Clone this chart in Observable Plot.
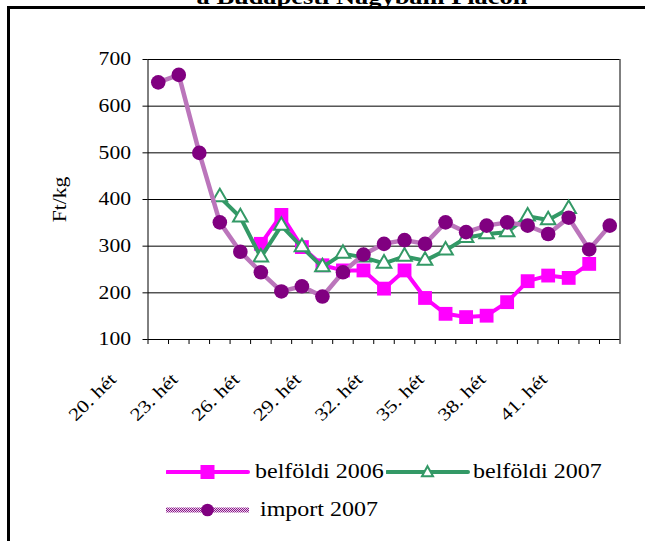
<!DOCTYPE html>
<html><head><meta charset="utf-8">
<script src="https://cdn.jsdelivr.net/npm/d3@7"></script>
<script src="https://cdn.jsdelivr.net/npm/@observablehq/plot@0.6"></script>
<style>
body{margin:0;background:#fff;font-family:"Liberation Serif","Times New Roman",serif;color:#000;}
#wrap{position:relative;width:645px;height:541px;overflow:hidden;background:#fff;}
#chart{position:absolute;left:0;top:0;}
#frame{position:absolute;left:7px;top:6px;width:700px;height:600px;border-left:3px solid #000;border-top:3px solid #000;z-index:5;pointer-events:none;}
#title{position:absolute;left:362px;top:-14.4px;font-size:22px;line-height:22px;font-weight:bold;white-space:nowrap;transform:translateX(-50%) scaleX(1.2);}
.sw{position:absolute;}
.lt{position:absolute;font-size:20px;line-height:20px;white-space:nowrap;transform:scaleX(1.2);transform-origin:0 0;}
</style>
</head><body>
<div id="wrap">
  <div id="title">a Budapesti Nagybani Piacon</div>
  <div id="chart"></div>
  <div id="legend"></div>
  <div id="frame"></div>
</div>
<script>
const weeks = [20,21,22,23,24,25,26,27,28,29,30,31,32,33,34,35,36,37,38,39,40,41,42];
const labelWeeks = [20,23,26,29,32,35,38,41];
const weekLabels = ["20. hét","23. hét","26. hét","29. hét","32. hét","35. hét","38. hét","41. hét"];
const yTicks = [100,200,300,400,500,600,700];
const seriesNames = ["belföldi 2006","belföldi 2007","import 2007"];
const belfoldi2006 = [null,null,null,null,null,305,367,298,259,248,248,209,248,189,155,148,151,180,225,237,232,262,null];
const belfoldi2007 = [null,null,null,405,362,276,344,298,255,284,276,263,278,269,291,318,326,330,364,356,380,null,null];
const import2007   = [651,667,500,351,288,244,203,214,192,244,282,305,313,305,351,330,344,351,344,326,361,293,344];

const toRows = arr => weeks.map((w,i)=>({w, v: arr[i]}));
const r06 = toRows(belfoldi2006), r07 = toRows(belfoldi2007), rim = toRows(import2007);
const bounds = weeks.map(w=>w-0.5).concat([weeks[weeks.length-1]+0.5]);
const xDom = [bounds[0], bounds[bounds.length-1]];

const C06 = "#ff00ff", C07 = "#339966", CIM = "#800080";

const plot = Plot.plot({
  width: 645, height: 435,
  marginLeft: 147.5, marginRight: 25.5, marginTop: 59, marginBottom: 96,
  style: {fontFamily: "Liberation Serif, Times New Roman, serif", fontSize: "20px", color: "#000", background: "transparent", overflow: "visible"},
  x: {type: "linear", domain: xDom},
  y: {domain: [100, 700]},
  marks: [
    Plot.gridY(yTicks.slice(1), {stroke: "#000", strokeOpacity: 1, strokeWidth: 1}),
    Plot.ruleX([xDom[0]], {stroke: "#000", strokeWidth: 1}),
    Plot.ruleX([xDom[1]], {stroke: "#000", strokeWidth: 1}),
    Plot.ruleY([100], {stroke: "#000", strokeWidth: 1}),
    Plot.axisY({ticks: yTicks, tickSize: 5, tickPadding: 12, tickFormat: d => String(d), label: null, fontSize: 18}),
    Plot.axisX({ticks: bounds, tickSize: 5, tickFormat: () => "", label: null}),
    Plot.text(labelWeeks, {x: d => d, text: (d,i) => weekLabels[i], frameAnchor: "bottom", rotate: -45, textAnchor: "end", dx: -41, dy: 41, fontSize: 18}),
    Plot.text(["Ft/kg"], {frameAnchor: "left", textAnchor: "middle", rotate: -90, dx: -88, fontSize: 18}),
    Plot.line(r06, {x: "w", y: "v", stroke: C06, strokeWidth: 4}),
    Plot.dot(r06, {x: "w", y: "v", symbol: "square", r: 7.8, fill: C06, stroke: "none"}),
    Plot.line(r07, {x: "w", y: "v", stroke: C07, strokeWidth: 4}),
    Plot.dot(r07, {x: "w", y: "v", symbol: "triangle", r: 5.4, fill: "#fff", stroke: C07, strokeWidth: 2}),
    Plot.line(rim, {x: "w", y: "v", stroke: "url(#pchk)", strokeWidth: 4.5}),
    Plot.dot(rim, {x: "w", y: "v", symbol: "circle", r: 7.3, fill: CIM, stroke: "none"})
  ]
});

// checker pattern for the import line
const ns = "http://www.w3.org/2000/svg";
const defs = document.createElementNS(ns, "defs");
defs.innerHTML = '<pattern id="pchk" patternUnits="userSpaceOnUse" width="2" height="2">' +
  '<rect width="2" height="2" fill="#ecd0ec"/><rect width="1" height="1" fill="#8a1a8a"/>' +
  '<rect x="1" y="1" width="1" height="1" fill="#8a1a8a"/></pattern>';
plot.insertBefore(defs, plot.firstChild);

document.getElementById("chart").appendChild(plot);

// widen serif texts to match the stretched original
plot.querySelectorAll("text").forEach(t => {
  const len = t.getComputedTextLength();
  if (len > 0) { t.setAttribute("textLength", (len*1.2).toFixed(1)); t.setAttribute("lengthAdjust", "spacingAndGlyphs"); }
});

// legend
const legend = document.getElementById("legend");
function swatch(left, cy, color, sym, isPattern) {
  const s = document.createElementNS(ns, "svg");
  s.setAttribute("class", "sw");
  s.setAttribute("width", 84); s.setAttribute("height", 20);
  s.style.left = left + "px"; s.style.top = (cy - 10) + "px";
  let inner = "";
  if (isPattern) {
    inner += '<defs><pattern id="pchk2" patternUnits="userSpaceOnUse" width="2" height="2"><rect width="2" height="2" fill="#ecd0ec"/><rect width="1" height="1" fill="#8a1a8a"/><rect x="1" y="1" width="1" height="1" fill="#8a1a8a"/></pattern></defs>';
    inner += '<rect x="0" y="7.5" width="83" height="5" fill="url(#pchk2)"/>';
  } else {
    inner += `<line x1="1" x2="82" y1="10" y2="10" stroke="${color}" stroke-width="4" stroke-linecap="round"/>`;
  }
  if (sym === "square") inner += `<rect x="34.5" y="3" width="14" height="14" fill="${color}"/>`;
  if (sym === "triangle") inner += `<path d="M41.5,4.2L47,14.2L36,14.2Z" fill="#fff" stroke="${color}" stroke-width="2"/>`;
  if (sym === "circle") inner += `<circle cx="41.5" cy="10" r="6.3" fill="${color}"/>`;
  s.innerHTML = inner;
  legend.appendChild(s);
}
function label(left, baseline, txt) {
  const d = document.createElement("div");
  d.className = "lt"; d.textContent = txt;
  d.style.left = left + "px"; d.style.top = (baseline - 16.75) + "px";
  legend.appendChild(d);
}
swatch(166, 472, C06, "square");
label(255, 478, seriesNames[0]);
swatch(386, 472, C07, "triangle");
label(473, 478, seriesNames[1]);
swatch(166, 510, CIM, "circle", true);
label(260, 516, seriesNames[2]);
</script>
</body></html>
